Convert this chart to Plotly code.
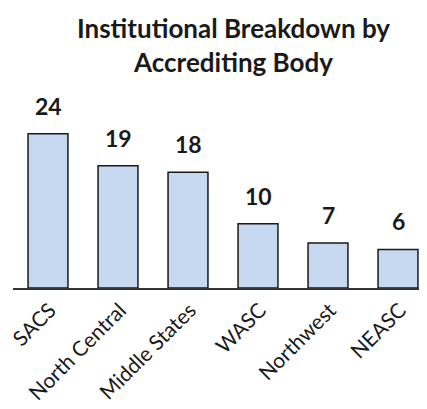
import plotly.graph_objects as go

bodies = ["SACS", "North Central", "Middle States", "WASC", "Northwest", "NEASC"]
counts = [24, 19, 18, 10, 7, 6]

FONT = "Lato"

fig = go.Figure()
fig.add_trace(go.Bar(
    x=bodies,
    y=counts,
    width=0.57,
    marker=dict(color="#C6D9F1", line=dict(color="#1a1a1a", width=1.5)),
    hoverinfo="x+y",
))

# value labels sit well above the bars, so annotations instead of bar text
for b, c in zip(bodies, counts):
    fig.add_annotation(x=b, y=c, text=f"<b>{c}</b>", showarrow=False,
                       yanchor="bottom", yshift=12,
                       font=dict(family=FONT, size=23, color="#1a1a1a"))

# two-line title as annotation (layout.title mis-places multi-line top anchors)
fig.add_annotation(xref="paper", yref="paper", x=0.544, y=1.545,
                   xanchor="center", yanchor="top", showarrow=False,
                   text="<b>Institutional Breakdown by<br>Accrediting Body</b>",
                   font=dict(family=FONT, size=26, color="#1a1a1a"))

# page body has an 8px margin, so the figure is 8px smaller than the window
fig.update_layout(
    width=419,
    height=401,
    margin=dict(l=5, r=8, t=100, b=121),
    paper_bgcolor="white",
    plot_bgcolor="white",
    showlegend=False,
    font=dict(family=FONT, color="#1a1a1a"),
)
fig.update_xaxes(
    range=[-0.5, 5.3], automargin=False,
    showline=True, linecolor="#333333", linewidth=1.5,
    showgrid=False, ticks="",
    tickangle=-45, ticklabelshift=2,
    tickfont=dict(family=FONT, size=21, color="#1a1a1a"),
)
fig.update_yaxes(range=[0, 28], visible=False, showgrid=False)

fig.write_html("out.html")
